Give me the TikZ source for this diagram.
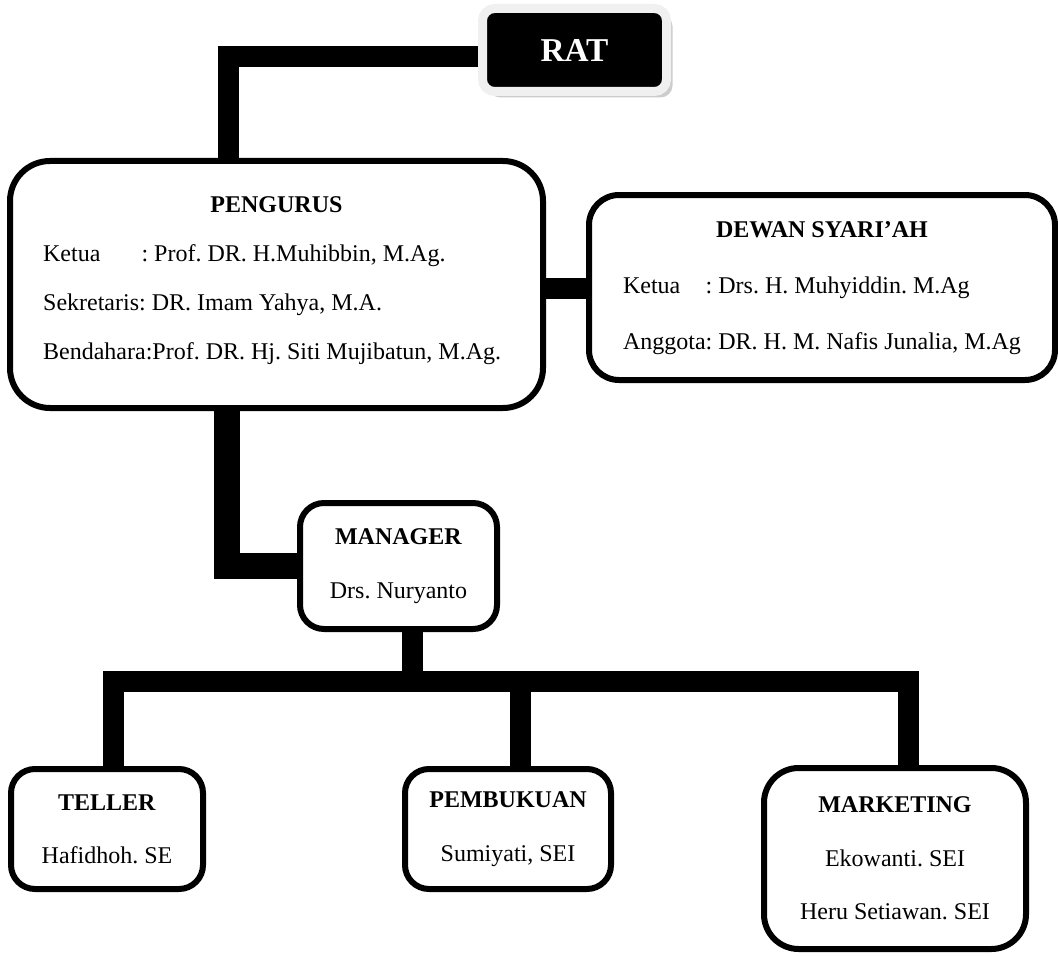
\documentclass[tikz,border=0pt]{standalone}
\usepackage{fontspec}
\setmainfont{Liberation Serif}
\frenchspacing
\usetikzlibrary{shadows}
\begin{document}
\begin{tikzpicture}[x=0.75pt,y=-0.75pt,
  every node/.style={font=\fontsize{18}{40}\selectfont},
  box/.style={draw,line width=4.5pt,rounded corners=#1,fill=white,align=center,inner sep=0pt},
  box/.default=18pt,
  link/.style={line width=15.75pt,line join=miter}]
\useasboundingbox (0,0) rectangle (1058,956);
% boxes
\node[fill=black,draw=gray!12,line width=6.75pt,rounded corners=9pt,
  minimum width=138pt,minimum height=62.25pt,text=white,
  font=\fontsize{25}{30}\selectfont\bfseries,
  drop shadow={shadow xshift=4.5pt,shadow yshift=-4.5pt,fill=gray!40,opacity=1}]
  (rat) at (574.5,50) {RAT};
\node[box=30pt,minimum width=399.75pt,minimum height=185.25pt,
  font=\fontsize{18}{36.75}\selectfont] (pengurus) at (276.5,284.5)
  {\begin{tabular}{@{}p{350pt}@{}}
   \multicolumn{1}{c}{\textbf{PENGURUS}}\\
   \makebox[4.1em][l]{Ketua}: Prof. DR. H.Muhibbin, M.Ag.\\
   Sekretaris: DR. Imam Yahya, M.A.\\
   Bendahara:Prof. DR. Hj. Siti Mujibatun, M.Ag.\rule[-24pt]{0pt}{0pt}
   \end{tabular}};
\node[box=22.5pt,minimum width=349.5pt,minimum height=138.75pt,
  font=\fontsize{18}{42}\selectfont] (dewan) at (822,287.5)
  {\begin{tabular}{@{}l@{}l@{}}
   \multicolumn{2}{c}{\textbf{DEWAN SYARI'AH}}\\
   Ketua & : Drs. H. Muhyiddin. M.Ag\\
   Anggota\ & : DR. H. M. Nafis Junalia, M.Ag\rule[-20pt]{0pt}{0pt}
   \end{tabular}};
\node[box,minimum width=147.75pt,minimum height=94.5pt] (manager) at (398.5,566)
  {\textbf{MANAGER}\\Drs. Nuryanto};
\node[box,minimum width=144pt,minimum height=90pt] (teller) at (107,829)
  {\textbf{TELLER}\\Hafidhoh. SE};
\node[box,minimum width=154.5pt,minimum height=90pt] (pembukuan) at (508,829)
  {\textbf{PEMBUKUAN}\\Sumiyati, SEI};
\node[box=26pt,minimum width=196.5pt,minimum height=135.75pt] (marketing) at (895,858.5)
  {\textbf{MARKETING}\\Ekowanti. SEI\\Heru Setiawan. SEI};
% joints
\coordinate (ratjoin) at (228.5,57);
\coordinate (pdjoin) at (566,288);
\coordinate (pmjoin) at (226.5,567.5);
\coordinate (bus) at (412,681.5);
\coordinate (tdrop) at (113,681.5);
\coordinate (pdrop) at (520,681.5);
\coordinate (mdrop) at (908.5,681.5);
% connectors
\draw[link] (rat.west |- ratjoin) -- (ratjoin) -- (ratjoin |- pengurus.north);
\draw[link] (pengurus.east |- pdjoin) -- (dewan.west |- pdjoin);
\draw[link,line width=19.5pt] (pengurus.south -| pmjoin) |- (manager.west);
\draw[link] (manager.south -| bus) -- (bus);
\draw[link] (teller.north -| tdrop) |- (mdrop) -- (marketing.north -| mdrop);
\draw[link] (pdrop) -- (pembukuan.north -| pdrop);
\end{tikzpicture}
\end{document}
